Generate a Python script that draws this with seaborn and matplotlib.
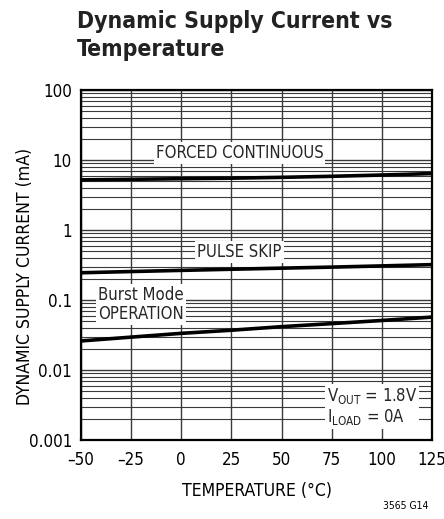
import numpy as np
import pandas as pd
import matplotlib
matplotlib.use("Agg")
import matplotlib.pyplot as plt
import seaborn as sns
from matplotlib.ticker import FixedLocator, LogLocator, NullFormatter

temps = [-50, -25, 0, 25, 50, 75, 100, 125]
forced = [5.2, 5.3, 5.4, 5.5, 5.65, 5.85, 6.1, 6.4]
pulse = [0.245, 0.255, 0.265, 0.275, 0.285, 0.295, 0.307, 0.32]
burst = [0.026, 0.0295, 0.0334, 0.037, 0.0416, 0.046, 0.051, 0.057]
series_names = ["FORCED CONTINUOUS", "PULSE SKIP", "BURST"]
xticks = [-50, -25, 0, 25, 50, 75, 100, 125]
xtick_labels = ["\u201350", "\u201325", "0", "25", "50", "75", "100", "125"]
yticks = [0.001, 0.01, 0.1, 1, 10, 100]
ytick_labels = ["0.001", "0.01", "0.1", "1", "10", "100"]

df = pd.DataFrame({
    "temp": temps * 3,
    "current": forced + pulse + burst,
    "mode": sum([[n] * len(temps) for n in series_names], []),
})

sns.set_theme(style="white")
plt.rcParams["font.family"] = ["DejaVu Sans"]
plt.rcParams["font.stretch"] = "condensed"

fig = plt.figure(figsize=(4.44, 5.19), dpi=100)
ax = fig.add_axes([81 / 444, 1 - 440 / 519, 351 / 444, 350 / 519])

ax.set_yscale("log")
ax.set_xlim(-50, 125)
ax.set_ylim(0.001, 100)

ax.yaxis.set_minor_locator(LogLocator(base=10, subs=np.arange(2, 10)))
ax.yaxis.set_minor_formatter(NullFormatter())
ax.grid(True, which="major", axis="both", color="#3a3a3a", linewidth=1.0)
ax.grid(True, which="minor", axis="y", color="#3a3a3a", linewidth=0.8)
ax.set_axisbelow(True)

sns.lineplot(data=df, x="temp", y="current", units="mode", estimator=None,
             color="black", linewidth=2.6, ax=ax, legend=False)

ax.set_xticks(xticks)
ax.set_xticklabels(xtick_labels)
ax.yaxis.set_major_locator(FixedLocator(yticks))
ax.set_yticklabels(ytick_labels)
ax.tick_params(axis="both", which="both", length=0, labelsize=12.2, colors="black")
ax.tick_params(axis="x", pad=8)
ax.tick_params(axis="y", pad=6.5)
for s in ax.spines.values():
    s.set_color("black")
    s.set_linewidth(1.6)

ax.set_xlabel("TEMPERATURE (\u00b0C)", fontsize=12.6, color="black", labelpad=9)
ax.set_ylabel("DYNAMIC SUPPLY CURRENT (mA)", fontsize=12.6, color="black")
ax.yaxis.set_label_coords(-0.135, (440 - 276) / 350)

box = dict(facecolor="white", edgecolor="none", pad=1.5)
fs = 12
ax.text(29, 12.5, "FORCED CONTINUOUS", ha="center", va="center", fontsize=fs, bbox=box)
ax.text(29, 0.48, "PULSE SKIP", ha="center", va="center", fontsize=fs, bbox=box)
ax.text(-41.5, 0.087, "Burst Mode\nOPERATION", ha="left", va="center", fontsize=fs,
        linespacing=1.05, bbox=box)
ax.text(72.5, 0.003, "V$_{\\mathregular{OUT}}$ = 1.8V\nI$_{\\mathregular{LOAD}}$ = 0A",
        ha="left", va="center", fontsize=fs, linespacing=1.1, bbox=box)

fig.text(77 / 444, 1 - 10 / 519, "Dynamic Supply Current vs\nTemperature", ha="left", va="top",
         fontsize=16.5, fontweight="bold", color="#222222", linespacing=1.28)
fig.text(428 / 444, 1 - 506 / 519, "3565 G14", ha="right", va="center", fontsize=7.5, color="black")

fig.savefig("out.png", dpi=100)
